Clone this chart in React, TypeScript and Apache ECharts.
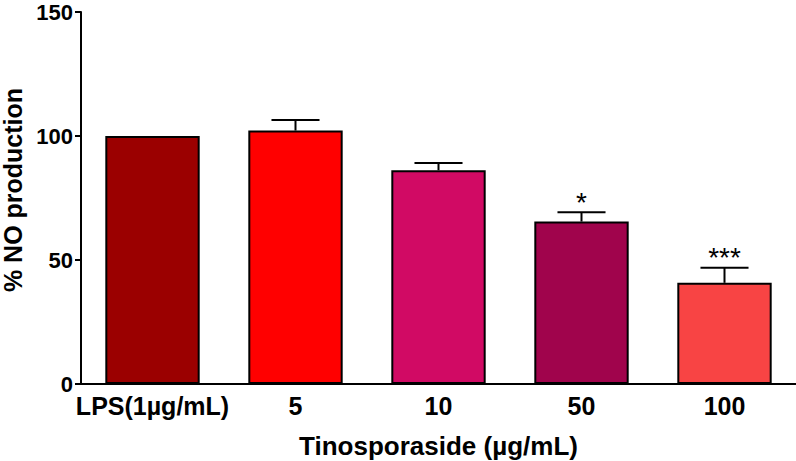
import React, { useEffect, useRef } from "react";
import * as echarts from "echarts";

const categories = ["LPS(1µg/mL)", "5", "10", "50", "100"];
const values = [100, 102.2, 86.2, 65.5, 40.8];
const errors = [0, 4.3, 2.9, 3.8, 6.1];
const significance = ["", "", "", "*", "***"];
const barColors = ["#9B0000", "#FF0000", "#D10A64", "#A0044C", "#F84444"];
const yTicks = { min: 0, max: 150, interval: 50 };

export default function App() {
  const ref = useRef<HTMLDivElement>(null);
  useEffect(() => {
    if (!ref.current) return;
    const chart = echarts.init(ref.current, undefined, { renderer: "svg" });
    const font = "'Liberation Sans', Arial, sans-serif";
    chart.setOption({
      animation: false,
      backgroundColor: "#fff",
      grid: { left: 81, right: 0, top: 12, bottom: 77, containLabel: false, outerBoundsMode: "none" },
      xAxis: {
        type: "category",
        data: categories,
        name: "Tinosporaside (µg/mL)",
        nameLocation: "middle",
        nameGap: 49,
        nameTextStyle: { fontFamily: font, fontWeight: "bold", fontSize: 26, color: "#000" },
        axisLine: { lineStyle: { color: "#000", width: 2 } },
        axisTick: { alignWithLabel: true, length: 6, lineStyle: { color: "#000", width: 2 } },
        axisLabel: { interval: 0, fontFamily: font, fontWeight: "bold", fontSize: 25, color: "#000", margin: 9 },
      },
      yAxis: {
        type: "value",
        min: yTicks.min,
        max: yTicks.max,
        interval: yTicks.interval,
        name: "% NO production",
        nameLocation: "middle",
        nameGap: 45,
        nameRotate: 90,
        nameTextStyle: {
          fontFamily: font,
          fontWeight: "bold",
          fontSize: 25,
          lineHeight: 24,
          color: "#000",
          padding: [0, 0, 0, 16],
        },
        axisLine: { show: true, lineStyle: { color: "#000", width: 2 } },
        axisTick: { show: true, length: 6, lineStyle: { color: "#000", width: 2 } },
        splitLine: { show: false },
        axisLabel: { fontFamily: font, fontWeight: "bold", fontSize: 22, lineHeight: 18, color: "#000", margin: 8 },
      },
      series: [
        {
          type: "bar",
          barWidth: "66%",
          data: values.map((v, i) => ({
            value: v,
            itemStyle: { color: barColors[i], borderColor: "#000", borderWidth: 2 },
          })),
        },
        {
          type: "custom",
          z: 5,
          data: values.map((v, i) => [i, v, errors[i]]),
          renderItem: (params: any, api: any) => {
            const idx = api.value(0);
            const v = api.value(1);
            const e = api.value(2);
            const sig = significance[idx];
            const base = api.coord([idx, v]);
            const top = api.coord([idx, v + e]);
            const band = api.size([1, 0])[0];
            const half = band * 0.168;
            const children: any[] = [];
            if (e > 0) {
              children.push({
                type: "line",
                shape: { x1: base[0], y1: base[1], x2: top[0], y2: top[1] },
                style: { stroke: "#000", lineWidth: 2 },
              });
              children.push({
                type: "line",
                shape: { x1: top[0] - half, y1: top[1], x2: top[0] + half, y2: top[1] },
                style: { stroke: "#000", lineWidth: 2 },
              });
            }
            if (sig) {
              children.push({
                type: "text",
                x: top[0],
                y: top[1] + 4,
                style: {
                  text: sig,
                  fontFamily: font,
                  fontSize: 28,
                  fill: "#000",
                  align: "center",
                  verticalAlign: "bottom",
                },
              });
            }
            return { type: "group", children };
          },
        },
      ],
    });
    return () => chart.dispose();
  }, []);
  return (
    <div
      ref={ref}
      style={{ position: "fixed", left: 0, top: 0, width: 796, height: 461 }}
    />
  );
}
